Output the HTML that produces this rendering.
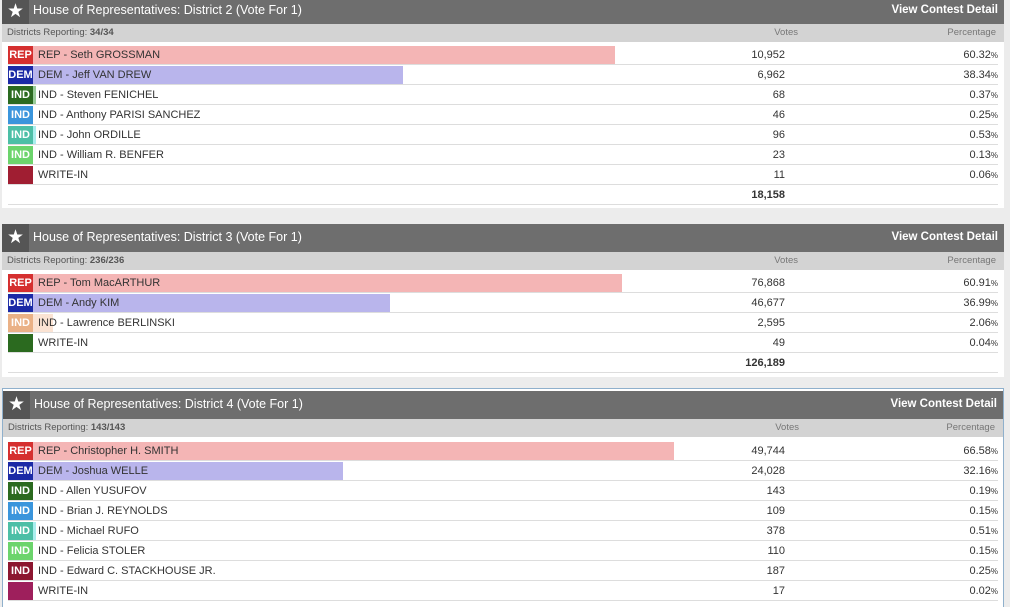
<!DOCTYPE html>
<html><head><meta charset="utf-8"><style>
*{margin:0;padding:0;box-sizing:border-box}
body{width:1010px;height:607px;background:#ececec;font-family:"Liberation Sans",sans-serif;position:relative;overflow:hidden}
.p{position:absolute;left:2px;width:1002px;background:#fff}
.h{position:absolute;left:0;width:1002px;height:28px;background:#6e6e6e;color:#fff}
.h .s{position:absolute;left:0;top:0;width:27px;height:28px;background:#555;color:#fff;font-size:19px;text-align:center;line-height:27px}
.h .t{position:absolute;left:31px;top:6px;font-size:12.5px}
.h .v{position:absolute;right:6px;top:7px;font-size:11.5px;font-weight:bold}
.sh{position:absolute;left:0;width:1002px;height:18px;background:#d3d3d3;color:#555;font-size:9.5px;line-height:18px}
.sh .a{position:absolute;left:5px}
.sh .b{position:absolute;left:716px;width:80px;text-align:right;color:#777}
.sh .c{position:absolute;right:8px;color:#777}
.r{position:absolute;left:6px;width:990px;height:20px;border-bottom:1px solid #ddd;font-size:11px;color:#333;line-height:21px}
.bd{position:absolute;left:0;top:1px;width:25px;height:18px;color:#fff;font-weight:bold;font-size:11px;text-align:center;line-height:18px}
.bar{position:absolute;left:25px;top:1px;height:18px}
.n{position:absolute;left:30px}
.vt{position:absolute;left:680px;width:97px;text-align:right}
.pc{position:absolute;right:0;text-align:right}
.pc small{font-size:8px}
</style></head><body>

<div class="p" style="top:0;height:208px">
<div class="h" style="top:-4px"><div class="s" style="top:4px;height:24px;line-height:24px">★</div><div class="t" style="top:7px">House of Representatives: District 2 (Vote For 1)</div><div class="v" style="top:8px">View Contest Detail</div></div>
<div class="sh" style="top:24px"><span class="a">Districts Reporting: <b>34/34</b></span><span class="b">Votes</span><span class="c">Percentage</span></div>
<div class="r" style="top:45px"><div class="bar" style="width:582px;background:#f4b5b5"></div><div class="bd" style="background:#d52f2f">REP</div><span class="n">REP - Seth GROSSMAN</span><span class="vt">10,952</span><span class="pc">60.32<small>%</small></span></div>
<div class="r" style="top:65px"><div class="bar" style="width:370px;background:#b9b5ec"></div><div class="bd" style="background:#1b2aa6">DEM</div><span class="n">DEM - Jeff VAN DREW</span><span class="vt">6,962</span><span class="pc">38.34<small>%</small></span></div>
<div class="r" style="top:85px"><div class="bar" style="width:3px;background:#9c9"></div><div class="bd" style="background:#2b6a1f">IND</div><span class="n">IND - Steven FENICHEL</span><span class="vt">68</span><span class="pc">0.37<small>%</small></span></div>
<div class="r" style="top:105px"><div class="bd" style="background:#3a95dc">IND</div><span class="n">IND - Anthony PARISI SANCHEZ</span><span class="vt">46</span><span class="pc">0.25<small>%</small></span></div>
<div class="r" style="top:125px"><div class="bar" style="width:3px;background:#aee"></div><div class="bd" style="background:#4cbfa6">IND</div><span class="n">IND - John ORDILLE</span><span class="vt">96</span><span class="pc">0.53<small>%</small></span></div>
<div class="r" style="top:145px"><div class="bd" style="background:#6cd46c">IND</div><span class="n">IND - William R. BENFER</span><span class="vt">23</span><span class="pc">0.13<small>%</small></span></div>
<div class="r" style="top:165px"><div class="bd" style="background:#a01e32"></div><span class="n">WRITE-IN</span><span class="vt">11</span><span class="pc">0.06<small>%</small></span></div>
<div class="r" style="top:185px"><span class="vt" style="font-weight:bold">18,158</span></div>
</div>

<div class="p" style="top:224px;height:153px">
<div class="h" style="top:0"><div class="s">★</div><div class="t">House of Representatives: District 3 (Vote For 1)</div><div class="v">View Contest Detail</div></div>
<div class="sh" style="top:28px"><span class="a">Districts Reporting: <b>236/236</b></span><span class="b">Votes</span><span class="c">Percentage</span></div>
<div class="r" style="top:49px"><div class="bar" style="width:589px;background:#f4b5b5"></div><div class="bd" style="background:#d52f2f">REP</div><span class="n">REP - Tom MacARTHUR</span><span class="vt">76,868</span><span class="pc">60.91<small>%</small></span></div>
<div class="r" style="top:69px"><div class="bar" style="width:357px;background:#b9b5ec"></div><div class="bd" style="background:#1b2aa6">DEM</div><span class="n">DEM - Andy KIM</span><span class="vt">46,677</span><span class="pc">36.99<small>%</small></span></div>
<div class="r" style="top:89px"><div class="bar" style="width:20px;background:#fbe3d3"></div><div class="bd" style="background:#eab186">IND</div><span class="n">IND - Lawrence BERLINSKI</span><span class="vt">2,595</span><span class="pc">2.06<small>%</small></span></div>
<div class="r" style="top:109px"><div class="bd" style="background:#2b6a1f"></div><span class="n">WRITE-IN</span><span class="vt">49</span><span class="pc">0.04<small>%</small></span></div>
<div class="r" style="top:129px"><span class="vt" style="font-weight:bold">126,189</span></div>
</div>

<div class="p" style="top:388px;height:219px;border:1px solid #8fb0cc;border-bottom:none">
<div class="h" style="top:2px;left:0;width:1000px"><div class="s">★</div><div class="t">House of Representatives: District 4 (Vote For 1)</div><div class="v">View Contest Detail</div></div>
<div class="sh" style="top:30px;width:1000px"><span class="a">Districts Reporting: <b>143/143</b></span><span class="b">Votes</span><span class="c">Percentage</span></div>
<div class="r" style="top:52px;left:5px"><div class="bar" style="width:641px;background:#f4b5b5"></div><div class="bd" style="background:#d52f2f">REP</div><span class="n">REP - Christopher H. SMITH</span><span class="vt">49,744</span><span class="pc">66.58<small>%</small></span></div>
<div class="r" style="top:72px;left:5px"><div class="bar" style="width:310px;background:#b9b5ec"></div><div class="bd" style="background:#1b2aa6">DEM</div><span class="n">DEM - Joshua WELLE</span><span class="vt">24,028</span><span class="pc">32.16<small>%</small></span></div>
<div class="r" style="top:92px;left:5px"><div class="bd" style="background:#2b6a1f">IND</div><span class="n">IND - Allen YUSUFOV</span><span class="vt">143</span><span class="pc">0.19<small>%</small></span></div>
<div class="r" style="top:112px;left:5px"><div class="bd" style="background:#3a95dc">IND</div><span class="n">IND - Brian J. REYNOLDS</span><span class="vt">109</span><span class="pc">0.15<small>%</small></span></div>
<div class="r" style="top:132px;left:5px"><div class="bar" style="width:3px;background:#aee"></div><div class="bd" style="background:#4cbfa6">IND</div><span class="n">IND - Michael RUFO</span><span class="vt">378</span><span class="pc">0.51<small>%</small></span></div>
<div class="r" style="top:152px;left:5px"><div class="bd" style="background:#6cd46c">IND</div><span class="n">IND - Felicia STOLER</span><span class="vt">110</span><span class="pc">0.15<small>%</small></span></div>
<div class="r" style="top:172px;left:5px"><div class="bd" style="background:#8c1630">IND</div><span class="n">IND - Edward C. STACKHOUSE JR.</span><span class="vt">187</span><span class="pc">0.25<small>%</small></span></div>
<div class="r" style="top:192px;left:5px"><div class="bd" style="background:#9e1f5c"></div><span class="n">WRITE-IN</span><span class="vt">17</span><span class="pc">0.02<small>%</small></span></div>
</div>
</body></html>
